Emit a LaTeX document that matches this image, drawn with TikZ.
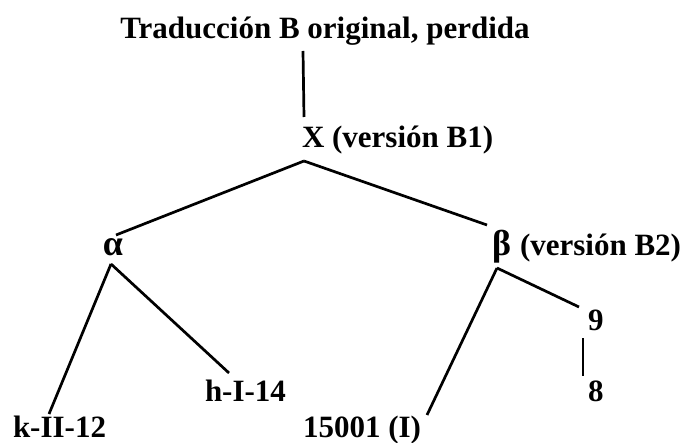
\documentclass[tikz,border=0pt]{standalone}
\usepackage{fontspec}
\setmainfont{Liberation Serif}
\begin{document}
\begin{tikzpicture}[x=1pt,y=-1pt,
  lbl/.style={inner sep=0pt,outer sep=0pt,font=\fontsize{31}{36}\selectfont\bfseries},
  greek/.style={font=\fontsize{36}{40}\selectfont\bfseries},
  edge/.style={line width=2.7pt}]
\useasboundingbox (0,0) rectangle (687,443);
% nodes
\node[lbl,anchor=base] (title) at (325,39) {Traducción B original, perdida};
\node[lbl,anchor=base west] (X) at (302,148) {X (versión B1)};
\node[lbl,greek,anchor=base] (alpha) at (113,256) {α};
\node[lbl,greek,anchor=base west] (beta) at (492,256) {β};
\node[lbl,anchor=base west] (betaLbl) at (520,256) {(versión B2)};
\node[lbl,anchor=base west] (k) at (13,437) {k-II-12};
\node[lbl,anchor=base west] (h) at (205,401) {h-I-14};
\node[lbl,anchor=base west] (m15001) at (303,437) {15001 (I)};
\node[lbl,anchor=base west] (nine) at (588,330) {9};
\node[lbl,anchor=base west] (eight) at (588,401) {8};
% connector ends
\coordinate (titleB) at (303,51);
\coordinate (XT) at (304,117);
\coordinate (XB) at (304,161);
\coordinate (alphaT) at (116,235);
\coordinate (betaT) at (487,225);
\coordinate (alphaB) at (111,264);
\coordinate (kT) at (49,414);
\coordinate (hT) at (229,373);
\coordinate (betaB) at (497,268);
\coordinate (mT) at (427,415);
\coordinate (nineL) at (579,307);
\coordinate (nineB) at (583,338);
\coordinate (eightT) at (583,376);
% connectors
\draw[edge] (titleB) -- (XT);
\draw[edge] (XB) -- (alphaT);
\draw[edge] (XB) -- (betaT);
\draw[edge] (alphaB) -- (kT);
\draw[edge] (alphaB) -- (hT);
\draw[edge] (betaB) -- (mT);
\draw[edge] (betaB) -- (nineL);
\draw[edge] (nineB) -- (eightT);
\end{tikzpicture}
\end{document}
